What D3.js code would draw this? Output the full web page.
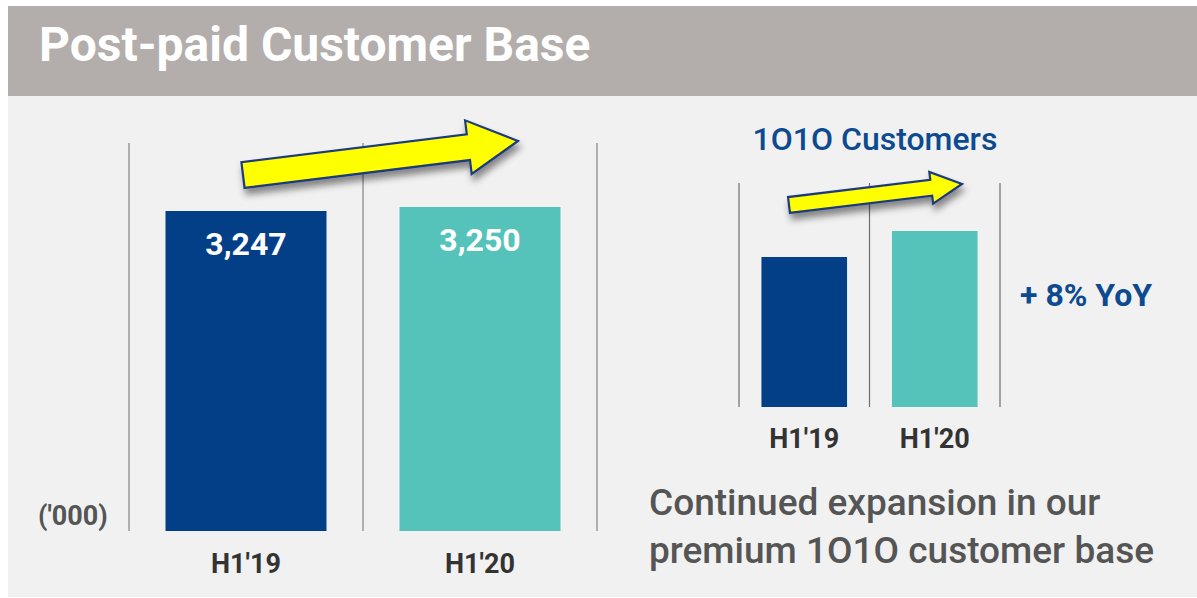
<!DOCTYPE html>
<html>
<head>
<meta charset="utf-8">
<script src="https://cdn.jsdelivr.net/npm/d3@7"></script>
<style>
  html, body { margin: 0; padding: 0; background: #ffffff; }
  svg { display: block; font-family: Roboto, "Noto Sans", sans-serif; }
</style>
</head>
<body>
<div id="chart"></div>
<script>
// data
const periods = ["H1'19", "H1'20"];
const postpaidValues = [3247, 3250];          // ('000)
const postpaidLabels = ["3,247", "3,250"];
const premiumIndex = [100, 108];               // 1O1O customers, H1'19 = 100 (+8% YoY)
const barColors = ["#033f87", "#56c3bb"];

const W = 1197, H = 598;

const svg = d3.select("#chart")
  .append("svg")
    .attr("width", W)
    .attr("height", H);

// drop shadow for the arrows
const defs = svg.append("defs");
defs.append("filter")
    .attr("id", "shadow")
    .attr("x", "-20%").attr("y", "-50%")
    .attr("width", "140%").attr("height", "250%")
  .append("feDropShadow")
    .attr("dx", 2).attr("dy", 6)
    .attr("stdDeviation", 3.5)
    .attr("flood-color", "#000")
    .attr("flood-opacity", 0.45);

// panel + header
svg.append("rect")
  .attr("x", 8).attr("y", 96)
  .attr("width", W - 8).attr("height", 501)
  .attr("fill", "#f1f1f1");

svg.append("rect")
  .attr("x", 8).attr("y", 6)
  .attr("width", W - 8).attr("height", 90)
  .attr("fill", "#b3aeab");

svg.append("text")
  .attr("x", 39).attr("y", 61)
  .attr("fill", "#ffffff")
  .style("font-size", "48px")
  .style("font-weight", 700)
  .text("Post-paid Customer Base");

// yellow arrow: tail (x0,y0) to tip (x1,y1)
function arrow(g, x0, y0, x1, y1, shaft, head, headLen) {
  const dx = x1 - x0, dy = y1 - y0;
  const len = Math.hypot(dx, dy);
  const ux = dx / len, uy = dy / len;
  const nx = -uy, ny = ux;
  const bx = x1 - ux * headLen, by = y1 - uy * headLen;
  const pts = [
    [x0 + nx * shaft / 2, y0 + ny * shaft / 2],
    [bx + nx * shaft / 2, by + ny * shaft / 2],
    [bx + nx * head / 2, by + ny * head / 2],
    [x1, y1],
    [bx - nx * head / 2, by - ny * head / 2],
    [bx - nx * shaft / 2, by - ny * shaft / 2],
    [x0 - nx * shaft / 2, y0 - ny * shaft / 2]
  ];
  g.append("path")
    .attr("d", d3.line()(pts) + "Z")
    .attr("fill", "#ffff00")
    .attr("stroke", "#1d3a7c")
    .attr("stroke-width", 2.2)
    .attr("stroke-linejoin", "miter")
    .attr("filter", "url(#shadow)");
}

// ---------- main chart ----------
const x = d3.scaleBand()
  .domain(periods)
  .range([129, 597])
  .paddingInner(0.312)
  .paddingOuter(0.156);

const y = d3.scaleLinear()
  .domain([3007, 3307])
  .range([531, 131]);

const main = svg.append("g");

// separators
const sepMain = [x.range()[0], x(periods[1]) - x.step() * x.paddingInner() / 2, x.range()[1]];
main.selectAll("line.sep")
  .data(sepMain)
  .enter().append("line")
    .attr("x1", d => d).attr("x2", d => d)
    .attr("y1", 143).attr("y2", y.range()[0])
    .attr("stroke", "#8c8c8c")
    .attr("stroke-width", 1.3);

arrow(main, 243, 175, 518, 141, 26, 54, 50);

main.selectAll("rect.bar")
  .data(postpaidValues)
  .enter().append("rect")
    .attr("x", (d, i) => x(periods[i]))
    .attr("y", d => y(d))
    .attr("width", x.bandwidth())
    .attr("height", d => y.range()[0] - y(d))
    .attr("fill", (d, i) => barColors[i]);

main.selectAll("text.val")
  .data(postpaidValues)
  .enter().append("text")
    .attr("x", (d, i) => x(periods[i]) + x.bandwidth() / 2)
    .attr("y", d => y(d) + 44)
    .attr("text-anchor", "middle")
    .attr("fill", "#ffffff")
    .style("font-size", "32px")
    .style("font-weight", 700)
    .text((d, i) => postpaidLabels[i]);

main.selectAll("text.cat")
  .data(periods)
  .enter().append("text")
    .attr("x", d => x(d) + x.bandwidth() / 2)
    .attr("y", 573)
    .attr("text-anchor", "middle")
    .attr("fill", "#333333")
    .style("font-size", "27px")
    .style("font-weight", 700)
    .text(d => d);

main.append("text")
  .attr("x", 38).attr("y", 525)
  .attr("fill", "#555555")
  .style("font-size", "27px")
  .style("font-weight", 700)
  .text("('000)");

// ---------- 1O1O chart ----------
const x2 = d3.scaleBand()
  .domain(periods)
  .range([739, 1000])
  .paddingInner(0.344)
  .paddingOuter(0.172);

const y2 = d3.scaleLinear()
  .domain([53.85, 108])
  .range([407, 231]);

const side = svg.append("g");

side.append("text")
  .attr("x", 875).attr("y", 150)
  .attr("text-anchor", "middle")
  .attr("fill", "#0d4a8f")
  .style("font-size", "32px")
  .style("font-weight", 500)
  .text("1O1O Customers");

const sepSide = [x2.range()[0], x2(periods[1]) - x2.step() * x2.paddingInner() / 2, x2.range()[1]];
side.selectAll("line.sep")
  .data(sepSide)
  .enter().append("line")
    .attr("x1", d => d).attr("x2", d => d)
    .attr("y1", 183).attr("y2", y2.range()[0])
    .attr("stroke", "#6e6e6e")
    .attr("stroke-width", 1.2);

arrow(side, 789, 205, 962, 184, 16, 32, 31);

side.selectAll("rect.bar")
  .data(premiumIndex)
  .enter().append("rect")
    .attr("x", (d, i) => x2(periods[i]))
    .attr("y", d => y2(d))
    .attr("width", x2.bandwidth())
    .attr("height", d => y2.range()[0] - y2(d))
    .attr("fill", (d, i) => barColors[i]);

side.selectAll("text.cat")
  .data(periods)
  .enter().append("text")
    .attr("x", d => x2(d) + x2.bandwidth() / 2)
    .attr("y", 448)
    .attr("text-anchor", "middle")
    .attr("fill", "#333333")
    .style("font-size", "27px")
    .style("font-weight", 700)
    .text(d => d);

side.append("text")
  .attr("x", 1020).attr("y", 306)
  .attr("fill", "#0d4a8f")
  .style("font-size", "32px")
  .style("font-weight", 700)
  .text("+ 8% YoY");

const note = side.append("text")
  .attr("x", 649).attr("y", 515)
  .attr("fill", "#555555")
  .style("font-size", "37px")
  .style("font-weight", 500);
note.append("tspan").attr("x", 649).text("Continued expansion in our");
note.append("tspan").attr("x", 649).attr("dy", 48).text("premium 1O1O customer base");
</script>
</body>
</html>
